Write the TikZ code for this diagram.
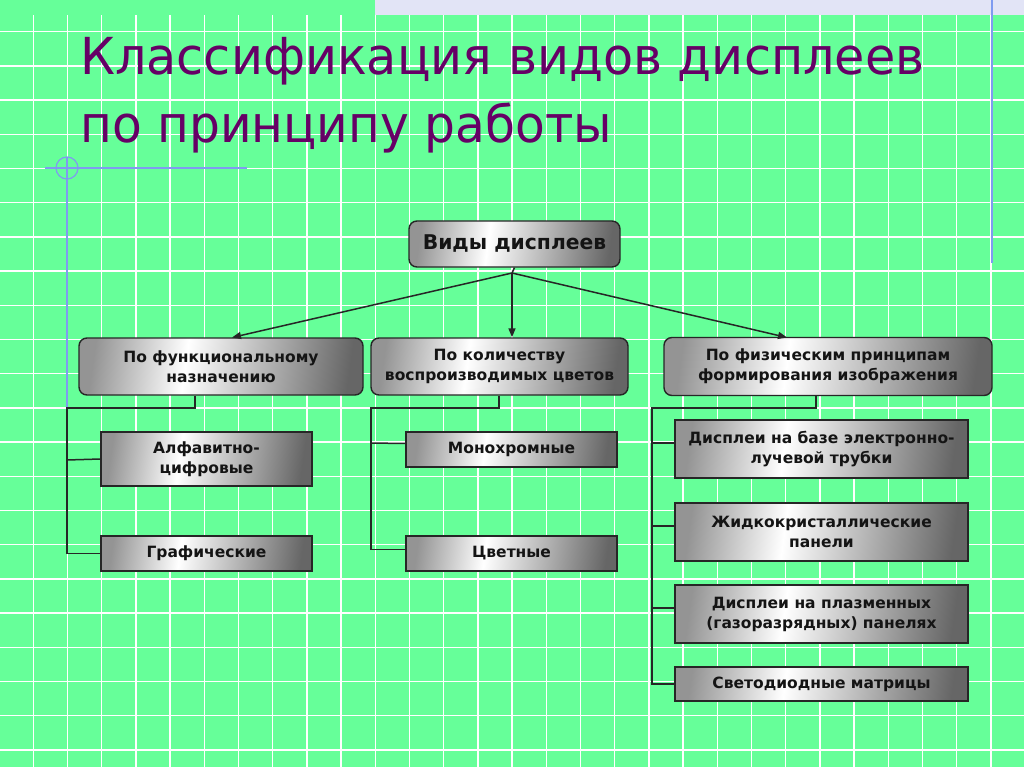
\documentclass[tikz,border=0pt]{standalone}
\usepackage{fontspec}
\usepackage{graphicx}
\setmainfont{DejaVu Sans}
\usetikzlibrary{arrows.meta}
\definecolor{bg}{HTML}{66FF99}
\definecolor{titlec}{HTML}{660066}
\definecolor{bluel}{HTML}{7F9BF0}
\definecolor{strip}{HTML}{E2E4F6}
\definecolor{gA}{gray}{0.58}
\definecolor{gB}{gray}{1}
\definecolor{gC}{gray}{0.40}
\pgfdeclarehorizontalshading{boxshade}{100bp}{color(0bp)=(gA); color(25bp)=(gA); color(43bp)=(gB); color(75bp)=(gC); color(100bp)=(gC)}
\tikzset{
  px/.style={x=1pt,y=-1pt},
  grid line/.style={white, line width=1.3pt},
  box/.style={draw=black!85, line width=1.4pt, shading=boxshade, shading angle=-8, align=center,
     font=\bfseries\fontsize{15.5}{20}\selectfont, text=black!92, inner sep=0pt},
  rbox/.style={box, rounded corners=8pt},
  sbox/.style={box},
  conn/.style={draw=black!85, line width=1.5pt},
  arr/.style={conn, -{Triangle[length=9pt,width=7pt]}},
  blueline/.style={draw=bluel, line width=1.2pt},
  titletext/.style={anchor=base west, text=titlec, font=\fontsize{51}{68}\selectfont, inner sep=0pt},
}
\begin{document}
\begin{tikzpicture}[px]
\useasboundingbox (0,0) rectangle (1024,767);
\fill[bg] (0,0) rectangle (1024,767);
\fill[strip] (375,0) rectangle (1024,15);
% grid
\foreach \i in {0,...,29} { \draw[grid line] (33.3+34.2*\i,15) -- (33.3+34.2*\i,767); }
\foreach \j in {0,...,21} { \draw[grid line] (0,31.7+34.2*\j) -- (1024,31.7+34.2*\j); }
% blue guide lines
\draw[blueline] (45,168) -- (247,168);
\draw[blueline] (67,168) circle (11);
\draw[blueline] (67,157) -- (67,408);
\draw[blueline] (992,0) -- (992,263);
% title
\node[titletext] (t1) at (80,75) {\scalebox{0.966}[1]{Классификация видов дисплеев}};
\node[titletext] (t2) at (80,143) {\scalebox{0.955}[1]{по принципу работы}};
% boxes
\node[rbox, minimum width=211pt, minimum height=46pt, font=\bfseries\fontsize{20.3}{24}\selectfont] (top) at (514.5,244) {Виды дисплеев};
\node[rbox, minimum width=284pt, minimum height=57pt] (b1) at (221,366.5) {По функциональному\\назначению};
\node[rbox, minimum width=257pt, minimum height=57pt] (b2) at (499.5,366.5) {По количеству\\воспроизводимых цветов};
\node[rbox, minimum width=328pt, minimum height=58pt] (b3) at (828,366.5) {По физическим принципам\\формирования изображения};
\node[sbox, minimum width=211pt, minimum height=54pt] (c11) at (206.5,459) {Алфавитно-\\цифровые};
\node[sbox, minimum width=211pt, minimum height=35pt] (c12) at (206.5,553.5) {Графические};
\node[sbox, minimum width=211pt, minimum height=35pt] (c21) at (511.5,449.5) {Монохромные};
\node[sbox, minimum width=211pt, minimum height=35pt] (c22) at (511.5,553.5) {Цветные};
\node[sbox, minimum width=293pt, minimum height=58pt] (c31) at (821.5,449) {Дисплеи на базе электронно-\\лучевой трубки};
\node[sbox, minimum width=293pt, minimum height=58pt] (c32) at (821.5,532) {Жидкокристаллические\\панели};
\node[sbox, minimum width=293pt, minimum height=58pt] (c33) at (821.5,614) {Дисплеи на плазменных\\(газоразрядных) панелях};
\node[sbox, minimum width=293pt, minimum height=34pt] (c34) at (821.5,684) {Светодиодные матрицы};
% arrows
\coordinate (apex) at (512,273);
\draw[conn] (top.south) -- (apex);
\draw[arr] (apex) -- (232,337.5) coordinate (a1);
\draw[arr] (apex) -- (b2.north -| apex);
\draw[arr] (apex) -- (787,337.5) coordinate (a3);
% tree connectors
\coordinate (s1) at (195,395.5);
\coordinate (s2) at (499,395.5);
\coordinate (s3) at (816,395.5);
\draw[conn] (s1) -- (195,408) -- (67,408) |- (c12.west);
\draw[conn] (67,460) -- (c11.west);
\draw[conn] (s2) -- (499,408) -- (371,408) |- ([yshift=4pt]c22.west);
\draw[conn] (371,443) -- ([yshift=6pt]c21.west);
\draw[conn] (s3) -- (816,408) -- (652,408) |- (c34.west);
\draw[conn] (652,443) -- ([yshift=6pt]c31.west);
\draw[conn] (652,526) -- ([yshift=6pt]c32.west);
\draw[conn] (652,608) -- ([yshift=6pt]c33.west);
\end{tikzpicture}
\end{document}
